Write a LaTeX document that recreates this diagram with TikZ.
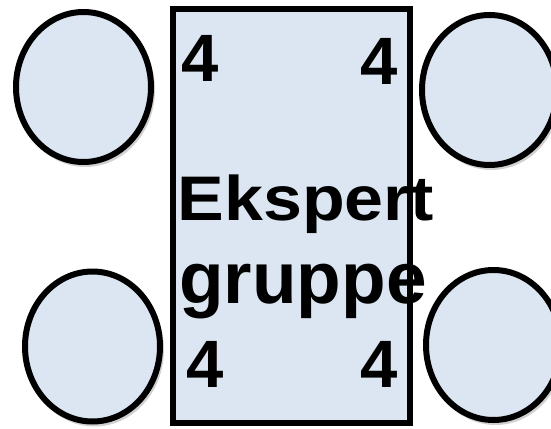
\documentclass[tikz,border=0pt]{standalone}
\usepackage{fontspec}
\setmainfont{Liberation Sans}
\usetikzlibrary{shapes.geometric}
\definecolor{lightfill}{HTML}{DCE6F2}
\tikzset{
  seat/.style={ellipse, draw=black, line width=6pt, fill=lightfill, minimum width=135pt, minimum height=150pt, inner sep=0pt},
  seatshadow/.style={ellipse, fill=black, opacity=0.18, minimum width=139pt, minimum height=154pt, inner sep=0pt},
  digit/.style={inner sep=0pt, font=\fontsize{67}{67}\selectfont\bfseries},
  bigword/.style={inner sep=0pt, anchor=base}
}
\begin{document}
\begin{tikzpicture}[x=1pt, y=-1pt]
\useasboundingbox (0,0) rectangle (551,428);
% seat shadows
\node[seatshadow] at (85.5,90) {};
\node[seatshadow] at (491.5,93) {};
\node[seatshadow] at (94.5,349.5) {};
\node[seatshadow] at (495.5,348) {};
% seats
\node[seat] (tl) at (83.5,87) {};
\node[seat] (tr) at (489.5,90) {};
\node[seat] (bl) at (92.5,346.5) {};
\node[seat] (br) at (493.5,345) {};
% table fill
\node[fill=lightfill, minimum width=237pt, minimum height=414pt, inner sep=0pt] (table) at (291.5,216) {};
% digits
\node[digit] (d1) at (200,58) {4};
\node[digit] (d2) at (379,61) {4};
\node[digit] (d3) at (205,364) {4};
\node[digit] (d4) at (379,364) {4};
% words
\node[bigword, font=\fontsize{63}{63}\selectfont\bfseries, xscale=1.11] (w1) at (306,220) {Ekspert};
\node[bigword, font=\fontsize{73}{73}\selectfont\bfseries] (w2) at (303,303) {gruppe};
% table border
\draw[line width=5.5pt, line join=miter] (table.south west) rectangle (table.north east);
\end{tikzpicture}
\end{document}
